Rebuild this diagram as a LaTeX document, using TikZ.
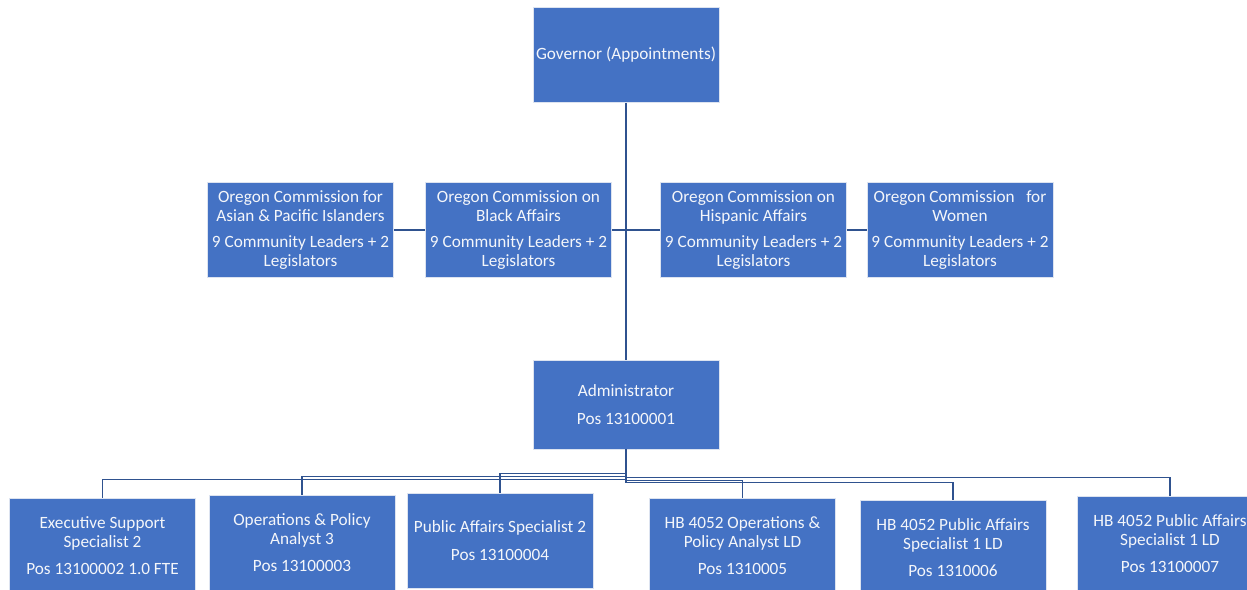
\documentclass[tikz,border=0pt]{standalone}
\usepackage{fontspec}
\setmainfont{Carlito}
\usetikzlibrary{positioning}
\definecolor{boxBlue}{HTML}{4472C4}
\definecolor{lineBlue}{HTML}{2F528F}
\definecolor{boxEdge}{HTML}{DCE3F0}
\definecolor{boxText}{HTML}{F4F6FA}

\begin{document}
\begin{tikzpicture}[x=0.02cm, y=-0.02cm, font=\fontsize{9.8}{10.8}\selectfont,
    orgbox/.style={fill=boxBlue, draw=boxEdge, line width=0.5pt, text=boxText,
      align=center, minimum width=3.72cm, minimum height=1.9cm, inner sep=0pt},
    link/.style={draw=lineBlue, line width=0.9pt}]
    \useasboundingbox (0,0) rectangle (1247,589);
    \clip (0,0) rectangle (1247,589);

    % gouverneur et administrateur
    \node[orgbox] (gov) at (626,55) {Governor (Appointments)};
    \node[orgbox, minimum height=1.78cm] (adm) at (626,404.5)
      {Administrator\\[5pt]Pos 13100001};

    % commissions
    \node[orgbox] (asian) at (300.5,230)
      {Oregon Commission for\\Asian \& Pacific Islanders\\[4pt]9 Community Leaders + 2\\Legislators};
    \node[orgbox] (black) at (518.5,230)
      {Oregon Commission on\\Black Affairs\\[4pt]9 Community Leaders + 2\\Legislators};
    \node[orgbox] (hisp) at (753.5,230)
      {Oregon Commission on\\Hispanic Affairs\\[4pt]9 Community Leaders + 2\\Legislators};
    \node[orgbox] (women) at (960,230)
      {Oregon Commission\ \ \ for\\Women\\[4pt]9 Community Leaders + 2\\Legislators};

    \coordinate (hub) at (gov.south |- black.east);
    \draw[link] (gov) -- (adm);
    \draw[link] (asian) -- (black);
    \draw[link] (black.east) -- (hub) -- (hisp.west);
    \draw[link] (hisp) -- (women);

    % postes
    \foreach \n/\x/\y/\b/\t in {
        exec/102.5/545.5/30/{Executive Support\\Specialist 2\\[5pt]Pos 13100002 1.0 FTE},
        ops/302/542.5/27/{Operations \& Policy\\Analyst 3\\[5pt]Pos 13100003},
        pas/500/540.5/24/{Public Affairs Specialist 2\\[5pt]Pos 13100004},
        hbops/742.5/545.5/31/{HB 4052 Operations \&\\Policy Analyst LD\\[5pt]Pos 1310005},
        hbpa/953/547.5/33/{HB 4052 Public Affairs\\Specialist 1 LD\\[5pt]Pos 1310006},
        hbpb/1170/543.5/28/{HB 4052 Public Affairs\\Specialist 1 LD\\[5pt]Pos 13100007}} {
      \node[orgbox] (\n) at (\x,\y) {\t};
      \draw[link] (adm.south) -- ++(0,\b) -| (\n.north);
    }
\end{tikzpicture}
\end{document}
